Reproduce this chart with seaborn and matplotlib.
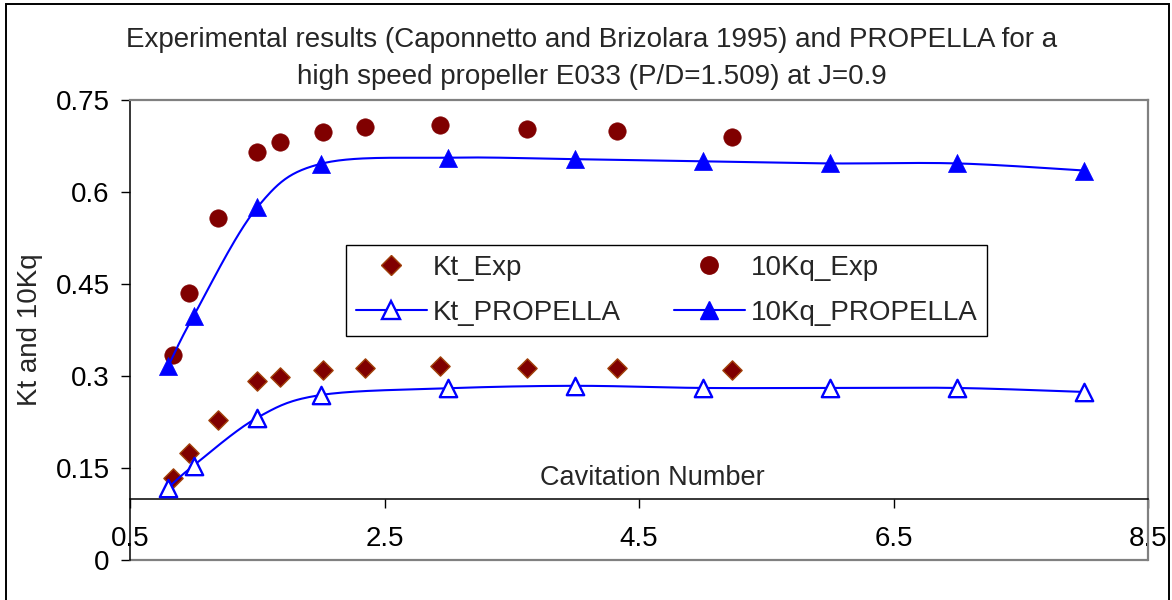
import numpy as np
import matplotlib
matplotlib.use("Agg")
import matplotlib.pyplot as plt
from matplotlib.lines import Line2D
from matplotlib.patches import Rectangle
import seaborn as sns

# ---------------- data ----------------
exp_sigma = [0.84, 0.96, 1.19, 1.50, 1.68, 2.02, 2.35, 2.94, 3.62, 4.33, 5.23]
kt_exp = [0.133, 0.174, 0.229, 0.292, 0.299, 0.309, 0.3125, 0.317, 0.3125, 0.3125, 0.309]
kq10_exp = [0.335, 0.435, 0.557, 0.665, 0.682, 0.698, 0.7065, 0.710, 0.702, 0.6995, 0.689]

prop_sigma = [0.8, 1.0, 1.5, 2.0, 3.0, 4.0, 5.0, 6.0, 7.0, 8.0]
kt_prop = [0.118, 0.154, 0.232, 0.269, 0.280, 0.284, 0.2805, 0.2805, 0.2805, 0.274]
kq10_prop = [0.316, 0.398, 0.575, 0.646, 0.656, 0.6535, 0.650, 0.6466, 0.6466, 0.635]

x_ticks = [0.5, 2.5, 4.5, 6.5, 8.5]
x_tick_labels = ["0.5", "2.5", "4.5", "6.5", "8.5"]
y_ticks = [0, 0.15, 0.3, 0.45, 0.6, 0.75]
y_tick_labels = ["0", "0.15", "0.3", "0.45", "0.6", "0.75"]

title = ("Experimental results (Caponnetto and Brizolara 1995) and PROPELLA for a\n"
         "high speed propeller E033 (P/D=1.509) at J=0.9")
x_label = "Cavitation Number"
y_label = "Kt and 10Kq"
names = ["Kt_Exp", "10Kq_Exp", "Kt_PROPELLA", "10Kq_PROPELLA"]


def smooth_path(x, y, n=30):
    """Excel-like smoothed line (cubic Bezier through the data points)."""
    x = np.asarray(x, float)
    y = np.asarray(y, float)
    m = len(x)
    px, py = [], []
    for i in range(m - 1):
        i0 = max(i - 1, 0)
        i3 = min(i + 2, m - 1)
        c1x = x[i] + (x[i + 1] - x[i0]) / 6
        c1y = y[i] + (y[i + 1] - y[i0]) / 6
        c2x = x[i + 1] - (x[i3] - x[i]) / 6
        c2y = y[i + 1] - (y[i3] - y[i]) / 6
        t = np.linspace(0, 1, n, endpoint=(i == m - 2))
        a, b, c, d = (1 - t) ** 3, 3 * (1 - t) ** 2 * t, 3 * (1 - t) * t ** 2, t ** 3
        px.append(a * x[i] + b * c1x + c * c2x + d * x[i + 1])
        py.append(a * y[i] + b * c1y + c * c2y + d * y[i + 1])
    return np.concatenate(px), np.concatenate(py)


sns.set_theme(style="white")
plt.rcParams["font.family"] = ["Liberation Sans", "DejaVu Sans"]

FS = 20
W, H = 1172, 600
fig = plt.figure(figsize=(W / 100, H / 100), dpi=100)
ax = fig.add_axes([130 / W, 40 / H, 1018 / W, 460 / H])

maroon = "#800000"
blue = "#0000FF"
dia_edge = "#A0400A"

# experimental points
sns.scatterplot(x=exp_sigma, y=kt_exp, marker="D", s=9.8 ** 2, color=maroon,
                edgecolor=dia_edge, linewidth=1.0, ax=ax, zorder=3)
sns.scatterplot(x=exp_sigma, y=kq10_exp, marker="o", s=12.5 ** 2, color=maroon,
                edgecolor=maroon, linewidth=0.5, ax=ax, zorder=3)

# PROPELLA lines (smoothed) + markers
for yy in (kt_prop, kq10_prop):
    sx, sy = smooth_path(prop_sigma, yy)
    sns.lineplot(x=sx, y=sy, sort=False, estimator=None, color=blue, lw=1.5,
                 ax=ax, zorder=4)
sns.scatterplot(x=prop_sigma, y=kt_prop, marker="^", s=12.5 ** 2, color="white",
                edgecolor=blue, linewidth=1.7, ax=ax, zorder=5)
sns.scatterplot(x=prop_sigma, y=kq10_prop, marker="^", s=13 ** 2, color=blue,
                edgecolor=blue, linewidth=0.5, ax=ax, zorder=5)

ax.set_xlim(0.5, 8.5)
ax.set_ylim(0, 0.75)
ax.set_xticks(x_ticks)
ax.set_xticklabels(x_tick_labels)
ax.set_yticks(y_ticks)
ax.set_yticklabels(y_tick_labels)

# axes styling (Excel look)
grey = "#808080"
for side in ("top", "right"):
    ax.spines[side].set_color(grey)
    ax.spines[side].set_linewidth(1.6)
ax.spines["left"].set_color("black")
ax.spines["left"].set_linewidth(1.1)
ax.spines["bottom"].set_position(("data", 0.1))
ax.spines["bottom"].set_color("black")
ax.spines["bottom"].set_linewidth(1.1)
ax.axhline(0, color=grey, lw=1.6, clip_on=False, zorder=1)

ax.tick_params(axis="both", direction="out", length=6.5, width=1.0,
               color="black", labelsize=FS, labelcolor="black")
ax.tick_params(axis="x", pad=13)
ax.tick_params(axis="y", pad=8)
ax.tick_params(left=True, bottom=True)

ax.set_xlabel(x_label, fontsize=19.5)
ax.xaxis.set_label_coords((652 - 130) / 1018, (560 - 478) / 460)
ax.xaxis.label.set_va("center")
ax.set_ylabel(y_label, fontsize=20)
ax.yaxis.set_label_coords((30 - 130) / 1018, 0.5)
ax.yaxis.label.set_va("center")

fig.text(592 / W, 1 - 27 / H, title, ha="center", va="top", fontsize=20,
         linespacing=1.55)

# legend
handles = [
    Line2D([], [], ls="none", marker="D", ms=9.8, mfc=maroon, mec=dia_edge, mew=1.0),
    Line2D([], [], color=blue, lw=1.5, marker="^", ms=12.5, mfc="white", mec=blue, mew=1.7),
    Line2D([], [], ls="none", marker="o", ms=12.5, mfc=maroon, mec=maroon),
    Line2D([], [], color=blue, lw=1.5, marker="^", ms=13, mfc=blue, mec=blue),
]
labels = [names[0], names[2], names[1], names[3]]
leg = ax.legend(handles, labels, ncol=2, loc="upper left",
                bbox_to_anchor=((346 - 130) / 1018, (560 - 245) / 460),
                borderaxespad=0, fontsize=FS, handlelength=2.55,
                handletextpad=0.22, columnspacing=1.9, labelspacing=0.69,
                borderpad=0.36, numpoints=1, fancybox=False, frameon=True)
leg.get_frame().set_edgecolor("black")
leg.get_frame().set_linewidth(1.0)
leg.get_frame().set_alpha(1)

# outer chart border
fig.patches.append(Rectangle((6 / W, -0.05), (1169 - 6) / W, 1.05 - 4 / H,
                             transform=fig.transFigure, fill=False,
                             edgecolor="black", lw=1.4))

fig.savefig("out.png", dpi=100)
